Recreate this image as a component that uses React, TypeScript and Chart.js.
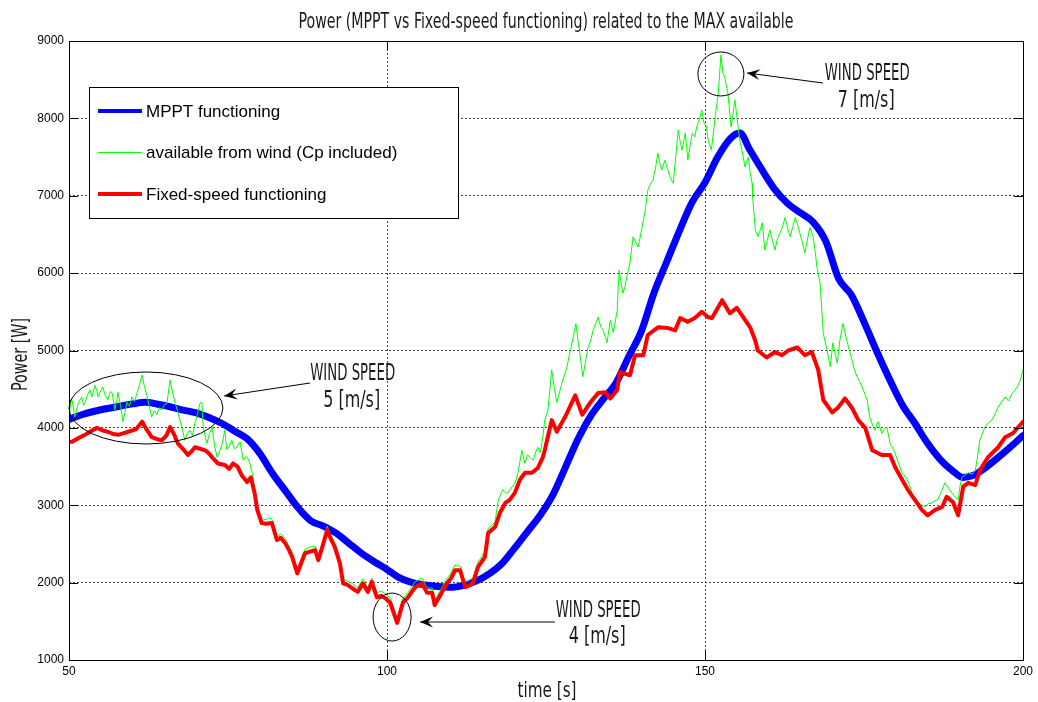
import React, { useEffect, useRef } from "react";
import Chart from "chart.js/auto";

// ---- series data (time in s, power in W) ----
const mpptTime = [50, 52, 54, 56, 58, 60, 62, 64, 66, 68, 70, 72, 74, 76, 78, 80, 82, 84, 86, 88, 90, 92, 94, 96, 98, 100, 102, 104, 106, 108, 110, 112, 114, 116, 118, 120, 122, 124, 126, 128, 130, 132, 134, 136, 138, 140, 142, 144, 146, 148, 150, 152, 154, 155.5, 157, 159, 161, 163, 165, 167, 169, 171, 173, 175, 177, 179, 181, 183, 185, 187, 189, 190.5, 192, 194, 196, 198, 200];
const mpptPower = [4110, 4170, 4215, 4250, 4280, 4310, 4330, 4305, 4270, 4230, 4195, 4135, 4060, 3960, 3860, 3670, 3410, 3190, 2970, 2800, 2730, 2640, 2510, 2380, 2270, 2170, 2060, 2000, 1970, 1950, 1940, 1965, 2020, 2110, 2240, 2440, 2650, 2860, 3120, 3480, 3850, 4150, 4370, 4580, 4920, 5250, 5750, 6150, 6550, 6920, 7170, 7500, 7740, 7810, 7600, 7330, 7080, 6900, 6780, 6660, 6410, 5930, 5720, 5370, 4990, 4630, 4300, 4060, 3800, 3590, 3440, 3360, 3380, 3480, 3610, 3750, 3900];

const windTime = [50, 50.2, 50.4, 50.6, 50.9, 51.2, 51.5, 52, 52.3, 52.5, 52.9, 53.3, 53.6, 54.1, 54.4, 54.6, 55, 55.3, 55.7, 56.1, 56.5, 56.8, 57.2, 57.5, 57.7, 58.1, 58.5, 58.8, 59.1, 59.5, 59.9, 60.3, 60.7, 61.1, 61.5, 61.9, 62.3, 62.7, 63, 63.4, 63.8, 64.2, 64.6, 65, 65.4, 65.9, 66.3, 66.7, 67.1, 67.5, 67.9, 68.2, 68.6, 69, 69.4, 69.8, 70.2, 70.6, 70.9, 71.1, 71.4, 71.7, 72.1, 72.5, 72.9, 73.3, 73.7, 74.1, 74.5, 74.8, 75.2, 75.6, 76, 76.4, 76.9, 77.4, 77.8, 78.1, 78.5, 78.8, 79.2, 79.6, 80.3, 81, 81.5, 81.9, 82.7, 83.3, 84, 84.6, 85.1, 85.9, 86.5, 87.1, 87.9, 88.7, 89.2, 89.9, 90.6, 91.2, 91.8, 92.6, 93.1, 93.8, 94.5, 95.4, 96.2, 97, 97.6, 98.4, 99.1, 99.7, 100.5, 101.6, 102.5, 103.3, 104.4, 105.5, 106.3, 107.1, 107.5, 108.6, 109.4, 110.1, 110.7, 111.5, 112.3, 113.5, 114.3, 115.4, 115.9, 116.5, 117, 117.5, 118.2, 118.9, 119.7, 120.2, 120.6, 121.2, 121.7, 122.1, 122.5, 123, 123.4, 123.7, 124.1, 124.5, 124.8, 125.3, 125.9, 126.3, 126.7, 127.1, 127.5, 127.9, 128.3, 128.7, 129.1, 129.4, 129.7, 130, 130.3, 130.8, 131.2, 131.6, 132, 132.4, 132.8, 133.2, 133.6, 134, 134.3, 134.6, 135.1, 135.6, 136.2, 136.5, 136.8, 137.1, 137.4, 137.7, 138.2, 138.7, 139.1, 139.5, 140.1, 140.6, 141, 141.4, 141.8, 142.2, 142.6, 142.9, 143.2, 143.7, 144.1, 144.5, 145, 145.4, 145.8, 146.1, 146.4, 146.9, 147.3, 147.6, 148, 148.4, 148.7, 149.1, 149.5, 149.8, 150.2, 150.5, 151, 151.3, 151.6, 152.1, 152.5, 152.8, 153.1, 153.6, 154.1, 154.4, 154.7, 155.2, 155.5, 155.8, 156.3, 156.8, 157.1, 157.4, 157.5, 157.9, 158.3, 158.7, 159, 159.4, 159.8, 160.2, 160.6, 161, 161.4, 161.8, 162.2, 162.6, 163, 163.4, 163.8, 164.2, 164.5, 164.9, 165.3, 165.7, 166.1, 166.5, 167, 167.3, 167.6, 168.1, 168.6, 169.2, 169.7, 170.1, 170.5, 170.8, 171.2, 171.7, 172.3, 172.7, 173.1, 173.5, 173.9, 174.3, 174.7, 175.1, 175.5, 175.9, 176.3, 176.7, 177.2, 177.8, 178.2, 178.6, 179.1, 179.5, 179.9, 180.4, 181, 181.4, 181.8, 182.2, 182.5, 183, 183.5, 184, 184.6, 185.1, 185.7, 186.2, 186.6, 187.2, 187.7, 188.3, 188.8, 189.3, 189.8, 190.1, 190.4, 190.9, 191.4, 192, 192.5, 192.9, 193.2, 193.6, 194, 194.5, 195.1, 195.6, 196.1, 196.6, 197.2, 197.7, 198.3, 198.7, 199.1, 199.6, 200];
const windPower = [4150, 4270, 4380, 4300, 4140, 4230, 4330, 4400, 4290, 4320, 4420, 4490, 4400, 4550, 4470, 4400, 4480, 4530, 4420, 4360, 4470, 4450, 4230, 4350, 4460, 4290, 4080, 4200, 4330, 4280, 4400, 4340, 4450, 4560, 4680, 4520, 4400, 4250, 4140, 4220, 4170, 4260, 4230, 4300, 4320, 4620, 4450, 4320, 4210, 4080, 3960, 3840, 3930, 3970, 3900, 4060, 4180, 4320, 4330, 4010, 3900, 3800, 3930, 4010, 3760, 3620, 3700, 3800, 3970, 3720, 3760, 3840, 3730, 3750, 3820, 3580, 3630, 3610, 3520, 3420, 3200, 2990, 2830, 2810, 2840, 2820, 2600, 2630, 2570, 2470, 2380, 2170, 2300, 2430, 2460, 2470, 2340, 2530, 2730, 2610, 2510, 2300, 2040, 2020, 1990, 1930, 2050, 1930, 2060, 1870, 1890, 1860, 1800, 1540, 1800, 1870, 2010, 2060, 1930, 1930, 1770, 1930, 2050, 2130, 2230, 2210, 2000, 2060, 2260, 2400, 2700, 2740, 2790, 3070, 3200, 3150, 3240, 3300, 3420, 3710, 3540, 3650, 3620, 3580, 3690, 3750, 3680, 3880, 4100, 4230, 4750, 4520, 4330, 4450, 4580, 4680, 4790, 4950, 5100, 5220, 5350, 5150, 4970, 4660, 4850, 5040, 5120, 5260, 5350, 5430, 5310, 5260, 5180, 5100, 5390, 5230, 5520, 6040, 5880, 5740, 5820, 5950, 6130, 6470, 6400, 6340, 6590, 6810, 7070, 7150, 7200, 7350, 7550, 7420, 7330, 7460, 7350, 7240, 7160, 7500, 7850, 7700, 7590, 7810, 7460, 7620, 7810, 7760, 7890, 7980, 8110, 7950, 7900, 7720, 7590, 7800, 8020, 8330, 8820, 8600, 8530, 8330, 7890, 8050, 8240, 7890, 7700, 7590, 7370, 7500, 7300, 7160, 6980, 6560, 6470, 6560, 6650, 6300, 6420, 6560, 6420, 6300, 6450, 6520, 6600, 6720, 6580, 6470, 6600, 6720, 6640, 6520, 6400, 6260, 6430, 6590, 6470, 6300, 6080, 5870, 5220, 5000, 4790, 5100, 4950, 4840, 5130, 5350, 5130, 5000, 4880, 4750, 4660, 4600, 4530, 4450, 4360, 4140, 4050, 3970, 4080, 3930, 3990, 4010, 3800, 3740, 3670, 3550, 3420, 3380, 3330, 3250, 3160, 3100, 3030, 3010, 2980, 3020, 3030, 3060, 3070, 3180, 3290, 3220, 3160, 3110, 3070, 3250, 3360, 3390, 3420, 3400, 3450, 3650, 3840, 3920, 4010, 4060, 4100, 4180, 4270, 4330, 4400, 4350, 4450, 4480, 4530, 4620, 4750];

const fixedTime = [50, 50.5, 51.5, 52.5, 53.5, 54.4, 55.2, 56.1, 57, 57.7, 58.5, 59.3, 60.5, 61.5, 62.2, 63, 64, 64.6, 65.3, 65.9, 66.5, 67.1, 68, 68.7, 69.3, 69.8, 70.6, 71.4, 72, 72.5, 73.4, 74.5, 75.2, 75.8, 76.5, 77.2, 78, 78.6, 79.2, 79.6, 80.3, 81, 81.9, 82.7, 83.3, 84, 84.6, 85.1, 85.9, 86.5, 87.1, 87.9, 88.7, 89.2, 89.9, 90.6, 91.2, 91.8, 92.6, 93.1, 93.8, 94.5, 95.4, 96.2, 97, 97.6, 98.4, 99.1, 99.7, 100.5, 101.6, 102.5, 103.3, 104.4, 105.5, 106.3, 107.1, 107.5, 108.6, 109.4, 110.1, 110.7, 111.5, 112.3, 113.5, 114.3, 115.4, 115.9, 117, 117.8, 118.6, 119.3, 120.1, 120.9, 121.7, 122.8, 123.7, 124.5, 124.8, 125.9, 126.7, 128, 129.6, 130.7, 131.9, 133.2, 134.3, 135.1, 136.2, 136.6, 138.2, 139, 140.3, 141, 142.6, 144.2, 145.3, 146.1, 147.3, 148.4, 149.5, 150.5, 151.1, 152.7, 153.9, 155, 156, 157.1, 157.9, 158.3, 159.7, 161, 162.1, 163.1, 164.5, 165.7, 166.8, 167.8, 168.6, 170, 170.9, 172, 173.1, 174.1, 175.2, 176.3, 177.8, 179.1, 179.9, 181, 181.9, 183, 184.1, 185, 186.2, 187.3, 188, 189, 189.8, 190.6, 191.4, 192.5, 193.2, 194.5, 196.1, 197.2, 198.4, 199.8, 200];
const fixedPower = [3820, 3820, 3870, 3910, 3960, 4000, 3970, 3950, 3920, 3910, 3930, 3950, 3980, 4080, 3980, 3880, 3850, 3840, 3900, 4010, 3920, 3800, 3720, 3650, 3700, 3750, 3730, 3710, 3670, 3620, 3540, 3520, 3470, 3540, 3500, 3380, 3300, 3360, 3150, 2940, 2770, 2760, 2770, 2550, 2580, 2510, 2420, 2330, 2120, 2250, 2380, 2400, 2420, 2290, 2480, 2680, 2560, 2460, 2250, 1990, 1970, 1930, 1880, 1990, 1880, 2010, 1810, 1830, 1800, 1740, 1480, 1740, 1810, 1940, 1990, 1870, 1870, 1710, 1870, 1990, 2060, 2160, 2160, 1940, 1990, 2200, 2330, 2640, 2720, 2910, 3030, 3070, 3160, 3330, 3420, 3420, 3480, 3620, 3710, 4100, 3950, 4140, 4420, 4170, 4320, 4450, 4460, 4380, 4490, 4720, 4680, 4940, 4940, 5200, 5300, 5290, 5260, 5420, 5370, 5420, 5500, 5430, 5420, 5650, 5480, 5550, 5430, 5300, 5130, 5000, 4910, 4980, 4940, 5000, 5040, 4940, 4980, 4750, 4360, 4200, 4260, 4380, 4260, 4100, 4000, 3710, 3650, 3650, 3490, 3330, 3200, 3070, 2940, 2870, 2940, 2980, 3110, 3040, 2870, 3240, 3290, 3260, 3450, 3620, 3750, 3880, 3930, 4060, 4080];

// ---- axes ----
const xTickValues = [50, 100, 150, 200];
const yTickValues = [1000, 2000, 3000, 4000, 5000, 6000, 7000, 8000, 9000];

// ---- texts ----
const titleText = "Power (MPPT vs Fixed-speed functioning) related to the MAX available";
const xAxisLabel = "time [s]";
const yAxisLabel = "Power [W]";
const seriesNames = ["MPPT functioning", "available from wind (Cp included)", "Fixed-speed functioning"];
const seriesColors = ["#0000ff", "#00ff00", "#ff0000"];
const seriesWidths = [7, 1, 4];
const legendWidths = [4, 1, 4];

// callouts: circled region (data coords), arrow (data coords), label
const callouts = [
  { cx: 62.1, cy: 4257, rx: 77, ry: 36, from: [87.9, 4580], to: [74.4, 4412], tx: 94.6, line1: "WIND SPEED", line2: "5 [m/s]", b1: 4625, b2: 4270 },
  { cx: 100.8, cy: 1555, rx: 19, ry: 24, from: [126.4, 1491], to: [105.2, 1491], tx: 133.2, line1: "WIND SPEED", line2: "4 [m/s]", b1: 1550, b2: 1215 },
  { cx: 152.5, cy: 8574, rx: 23, ry: 22, from: [168.55, 8457], to: [156.6, 8587], tx: 175.5, line1: "WIND SPEED", line2: "7 [m/s]", b1: 8495, b2: 8150 },
];

const NARROW = '"Liberation Sans Narrow", "DejaVu Sans Condensed", "Liberation Sans", sans-serif';
const TICK_FONT = '"Liberation Sans", Arial, sans-serif';

function narrowText(ctx: CanvasRenderingContext2D, text: string, x: number, y: number, size: number, width: number, vertical = false) {
  ctx.save();
  ctx.font = `${size}px ${NARROW}`;
  const w = ctx.measureText(text).width;
  ctx.translate(x, y);
  if (vertical) ctx.rotate(-Math.PI / 2);
  ctx.scale(width / w, 1);
  ctx.textAlign = "center";
  ctx.textBaseline = "alphabetic";
  ctx.fillStyle = "#1a1a1a";
  ctx.fillText(text, 0, 0);
  ctx.restore();
}

function arrow(ctx: CanvasRenderingContext2D, x0: number, y0: number, x1: number, y1: number) {
  ctx.beginPath();
  ctx.moveTo(x0, y0);
  ctx.lineTo(x1, y1);
  ctx.stroke();
  const a = Math.atan2(y1 - y0, x1 - x0);
  const len = 13, half = 5.5;
  const bx = x1 - len * Math.cos(a), by = y1 - len * Math.sin(a);
  const nx = x1 - len * 0.6 * Math.cos(a), ny = y1 - len * 0.6 * Math.sin(a);
  ctx.beginPath();
  ctx.moveTo(x1, y1);
  ctx.lineTo(bx - half * Math.sin(a), by + half * Math.cos(a));
  ctx.lineTo(nx, ny);
  ctx.lineTo(bx + half * Math.sin(a), by - half * Math.cos(a));
  ctx.closePath();
  ctx.fill();
}

const overlayPlugin = {
  id: "matlabOverlay",
  afterDraw(chart: any) {
    const { ctx, chartArea, scales } = chart;
    const { left, top, right, bottom } = chartArea;
    const xs = scales.x, ys = scales.y;
    ctx.save();

    // axes frame
    ctx.strokeStyle = "#000";
    ctx.lineWidth = 1;
    ctx.strokeRect(left + 0.5, top + 0.5, right - left, bottom - top);

    // inward tick marks on all four sides
    const tl = 9;
    ctx.beginPath();
    yTickValues.forEach((v) => {
      const py = Math.round(ys.getPixelForValue(v)) + 0.5;
      ctx.moveTo(left, py); ctx.lineTo(left + tl, py);
      ctx.moveTo(right, py); ctx.lineTo(right - tl, py);
    });
    xTickValues.forEach((v) => {
      const px = Math.round(xs.getPixelForValue(v)) + 0.5;
      ctx.moveTo(px, bottom); ctx.lineTo(px, bottom - tl);
      ctx.moveTo(px, top); ctx.lineTo(px, top + tl);
    });
    ctx.stroke();

    // callouts
    ctx.strokeStyle = "#000";
    ctx.fillStyle = "#000";
    ctx.lineWidth = 1;
    callouts.forEach((c) => {
      ctx.beginPath();
      ctx.ellipse(xs.getPixelForValue(c.cx), ys.getPixelForValue(c.cy), c.rx, c.ry, 0, 0, Math.PI * 2);
      ctx.stroke();
      arrow(ctx, xs.getPixelForValue(c.from[0]), ys.getPixelForValue(c.from[1]), xs.getPixelForValue(c.to[0]), ys.getPixelForValue(c.to[1]));
      const tx = xs.getPixelForValue(c.tx);
      narrowText(ctx, c.line1, tx, ys.getPixelForValue(c.b1), 23, 85);
      narrowText(ctx, c.line2, tx - 1, ys.getPixelForValue(c.b2), 23, 57);
    });

    // legend box
    const lx = 89, ly = 87, lw = 369, lh = 131;
    ctx.fillStyle = "#fff";
    ctx.fillRect(lx, ly, lw, lh);
    ctx.strokeStyle = "#000";
    ctx.lineWidth = 1;
    ctx.strokeRect(lx + 0.5, ly + 0.5, lw, lh);
    seriesNames.forEach((name, i) => {
      const yy = 111 + i * 41.5;
      ctx.strokeStyle = seriesColors[i];
      ctx.lineWidth = legendWidths[i];
      ctx.beginPath();
      ctx.moveTo(98, yy);
      ctx.lineTo(142, yy);
      ctx.stroke();
      ctx.fillStyle = "#000";
      ctx.font = `17px ${TICK_FONT}`;
      ctx.textAlign = "left";
      ctx.textBaseline = "middle";
      ctx.fillText(name, 146, yy + 1);
    });

    // title and axis labels
    narrowText(ctx, titleText, (left + right) / 2, 28, 22, 495);
    narrowText(ctx, xAxisLabel, (left + right) / 2 + 1, 697, 21, 59);
    narrowText(ctx, yAxisLabel, 27, (top + bottom) / 2 + 4, 21, 73, true);

    ctx.restore();
  },
};

export default function App() {
  const canvasRef = useRef<HTMLCanvasElement | null>(null);

  useEffect(() => {
    const canvas = canvasRef.current;
    if (!canvas) return;
    const toPoints = (t: number[], p: number[]) => t.map((x, i) => ({ x, y: p[i] }));
    const chart = new Chart(canvas, {
      type: "line",
      data: {
        datasets: [
          {
            label: seriesNames[0],
            data: toPoints(mpptTime, mpptPower),
            borderColor: seriesColors[0],
            borderWidth: seriesWidths[0],
            cubicInterpolationMode: "monotone",
            order: 3,
          },
          {
            label: seriesNames[1],
            data: toPoints(windTime, windPower),
            borderColor: seriesColors[1],
            borderWidth: seriesWidths[1],
            order: 2,
          },
          {
            label: seriesNames[2],
            data: toPoints(fixedTime, fixedPower),
            borderColor: seriesColors[2],
            borderWidth: seriesWidths[2],
            order: 1,
          },
        ],
      },
      options: {
        animation: false,
        responsive: false,
        events: [],
        layout: { padding: { left: 0, right: 15, top: 41, bottom: 0 } },
        elements: {
          point: { radius: 0 },
          line: { tension: 0, borderJoinStyle: "round", borderCapStyle: "round", fill: false },
        },
        plugins: {
          legend: { display: false },
          tooltip: { enabled: false },
          title: { display: false },
        },
        scales: {
          x: {
            type: "linear",
            min: 50,
            max: 200,
            afterBuildTicks: (s: any) => { s.ticks = xTickValues.map((v) => ({ value: v })); },
            afterFit: (s: any) => { s.height = 42; },
            grid: { color: "#444", lineWidth: 1, drawTicks: false },
            border: { display: false, dash: [2, 2] },
            ticks: { padding: 4, color: "#000", maxRotation: 0, callback: (v: any) => String(v), font: { family: TICK_FONT, size: 12 } },
          },
          y: {
            type: "linear",
            min: 1000,
            max: 9000,
            afterBuildTicks: (s: any) => { s.ticks = yTickValues.map((v) => ({ value: v })); },
            afterFit: (s: any) => { s.width = 69; },
            grid: { color: "#444", lineWidth: 1, drawTicks: false },
            border: { display: false, dash: [2, 2] },
            ticks: { padding: 5, color: "#000", callback: (v: any) => String(v), font: { family: TICK_FONT, size: 12 } },
          },
        },
      },
      plugins: [overlayPlugin],
    } as any);
    return () => chart.destroy();
  }, []);

  return (
    <div style={{ position: "fixed", left: 0, top: 0, width: 1038, height: 702, background: "#fff" }}>
      <canvas ref={canvasRef} width={1038} height={702} style={{ display: "block", width: 1038, height: 702 }} />
    </div>
  );
}
